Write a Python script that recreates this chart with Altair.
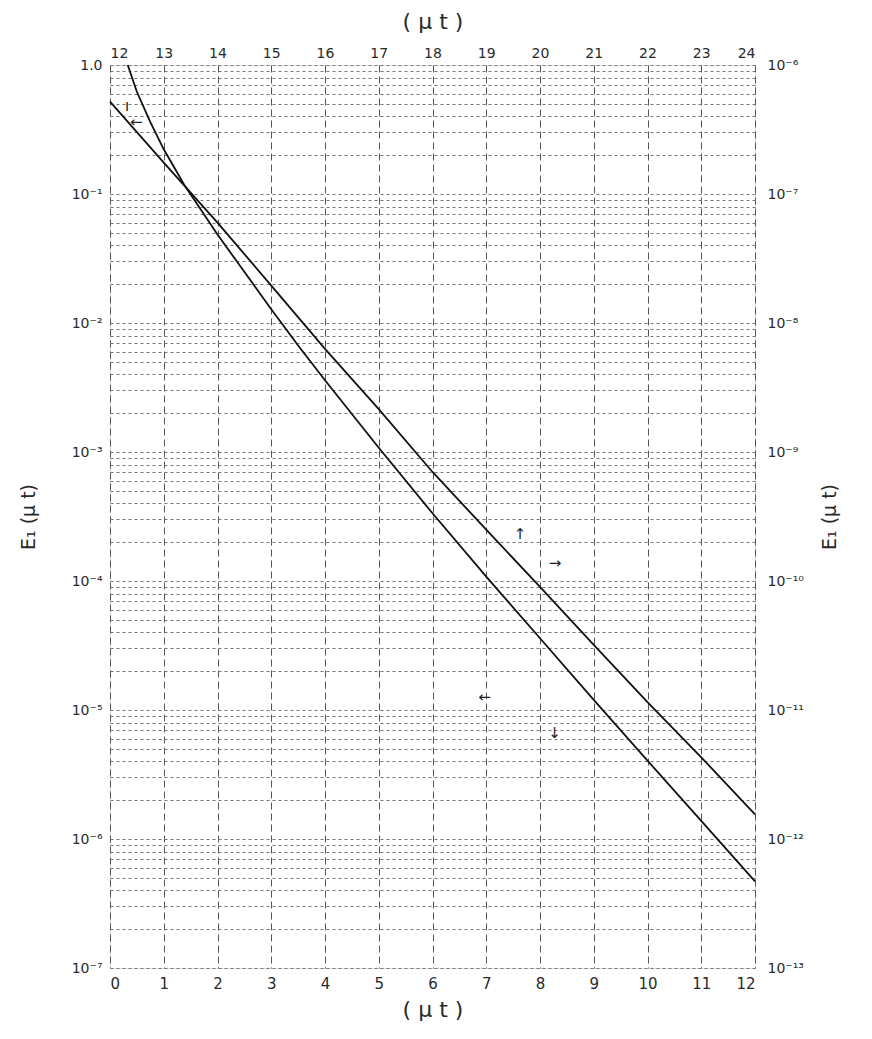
import altair as alt
import pandas as pd

# lower-scale curve: bottom axis (mu t = 0..12), left axis
bottom_x = [0.33, 0.5, 0.75, 1.0, 1.38, 2.0, 3.0, 3.5, 4.0, 5.0, 6.0, 7.0, 8.0, 9.0,
            10.0, 11.0, 12.0]
bottom_e1 = [1.0, 0.62, 0.36, 0.222, 0.118, 0.0485, 0.0128, 0.0067, 0.0036, 0.00108,
             3.35e-4, 1.08e-4, 3.6e-5, 1.2e-5, 4.05e-6, 1.38e-6, 4.7e-7]

# upper-scale curve: top axis (mu t = 12..24), right axis
top_x = [12, 13, 14, 15, 16, 17, 18, 19, 20, 21, 22, 23, 24]
top_e1 = [5.2e-7, 1.75e-7, 6.0e-8, 1.95e-8, 6.3e-9, 2.15e-9, 7.0e-10, 2.5e-10,
          9.0e-11, 3.2e-11, 1.15e-11, 4.3e-12, 1.55e-12]

# tick labels
bottom_ticks = list(range(0, 13))
left_decades = [1, 1e-1, 1e-2, 1e-3, 1e-4, 1e-5, 1e-6, 1e-7]
left_labels = ["1.0", "10⁻¹", "10⁻²", "10⁻³", "10⁻⁴", "10⁻⁵", "10⁻⁶", "10⁻⁷"]
right_labels = ["10⁻⁶", "10⁻⁷", "10⁻⁸", "10⁻⁹", "10⁻¹⁰", "10⁻¹¹", "10⁻¹²", "10⁻¹³"]

# small reading marks on the sheet (bottom/left units)
arrow_x = [7.63, 8.28, 6.97, 8.27, 0.49, 0.32]
arrow_y = [2.3e-4, 1.38e-4, 1.26e-5, 6.6e-6, 0.36, 0.48]
arrow_txt = ["↑", "→", "←", "↓", "←", "ı"]

OFFSET = 12
SHIFT = 1e6

grid_vals = [m * 10.0 ** (-k) for k in range(1, 8) for m in range(1, 10)] + [1.0]

df_b = pd.DataFrame({"x": bottom_x, "y": bottom_e1})
df_t = pd.DataFrame({"x": [v - OFFSET for v in top_x], "y": [v * SHIFT for v in top_e1]})
df_a = pd.DataFrame({"x": arrow_x, "y": arrow_y, "t": arrow_txt})

FONT = "DejaVu Sans"
INK = "#2a2a2a"

xscale = alt.Scale(domain=[0, 12], nice=False, zero=False)
yscale = alt.Scale(type="log", domain=[1e-7, 1], nice=False)

left_map = "{" + ",".join(f"'{i}':'{l}'" for i, l in enumerate(left_labels)) + "}"
right_map = "{" + ",".join(f"'{i}':'{l}'" for i, l in enumerate(right_labels)) + "}"
exp_expr = "round(-log(datum.value)/LN10)"
is_decade = f"abs(pow(10, -{exp_expr}) - datum.value) < datum.value*1e-6"

lower = alt.Chart(df_b).mark_line(color="#111111", strokeWidth=1.8).encode(
    x=alt.X("x:Q", scale=xscale,
            axis=alt.Axis(orient="bottom", values=bottom_ticks, title="( μ t )",
                          grid=True, gridDash=[7, 4], gridColor="#555555", gridWidth=1,
                          ticks=False, domain=False, labelFontSize=15, labelPadding=8,
                          titleFontSize=22, titleFontWeight="normal", titlePadding=8,
                          labelColor=INK, titleColor=INK, labelFont=FONT, titleFont=FONT)),
    y=alt.Y("y:Q", scale=yscale,
            axis=alt.Axis(orient="left", values=grid_vals, title="E₁ (μ t)",
                          grid=True, gridDash=[3, 3], gridColor="#777777", gridWidth=1,
                          labelExpr=f"{is_decade} ? {left_map}[''+{exp_expr}] : ''",
                          ticks=False, domain=False, labelFontSize=14, labelPadding=8,
                          titleFontSize=19, titleFontWeight="normal", titlePadding=33,
                          titleAngle=270,
                          labelColor=INK, titleColor=INK, labelFont=FONT, titleFont=FONT)),
)

upper = alt.Chart(df_t).mark_line(color="#111111", strokeWidth=1.8).encode(
    x=alt.X("x:Q", scale=xscale,
            axis=alt.Axis(orient="top", values=bottom_ticks, title="( μ t )",
                          labelExpr=f"datum.value + {OFFSET}",
                          grid=False, ticks=False, domain=False, labelFontSize=14,
                          labelPadding=5, titleFontSize=22, titleFontWeight="normal",
                          titlePadding=13, labelColor=INK, titleColor=INK,
                          labelFont=FONT, titleFont=FONT)),
    y=alt.Y("y:Q", scale=yscale,
            axis=alt.Axis(orient="right", values=left_decades, title="E₁ (μ t)",
                          labelExpr=f"{right_map}[''+{exp_expr}]",
                          grid=False, ticks=False, domain=False, labelFontSize=14,
                          labelPadding=12, titleFontSize=19, titleFontWeight="normal",
                          titlePadding=36, titleAngle=270,
                          labelColor=INK, titleColor=INK, labelFont=FONT, titleFont=FONT)),
)

arrows = alt.Chart(df_a).mark_text(fontSize=15, color="#222222", font=FONT).encode(
    x=alt.X("x:Q", scale=xscale, axis=None),
    y=alt.Y("y:Q", scale=yscale, axis=None),
    text="t:N",
)

chart = (
    alt.layer(lower, upper, arrows)
    .resolve_axis(x="independent", y="independent")
    .properties(width=645, height=903,
                padding={"left": 102, "top": 57, "right": 100, "bottom": 66},
                autosize=alt.AutoSizeParams(type="none"))
    .configure_view(stroke="#111111", strokeWidth=2)
    .configure(background="white")
)

chart.save("out.html", embed_options={"renderer": "svg", "actions": False})
